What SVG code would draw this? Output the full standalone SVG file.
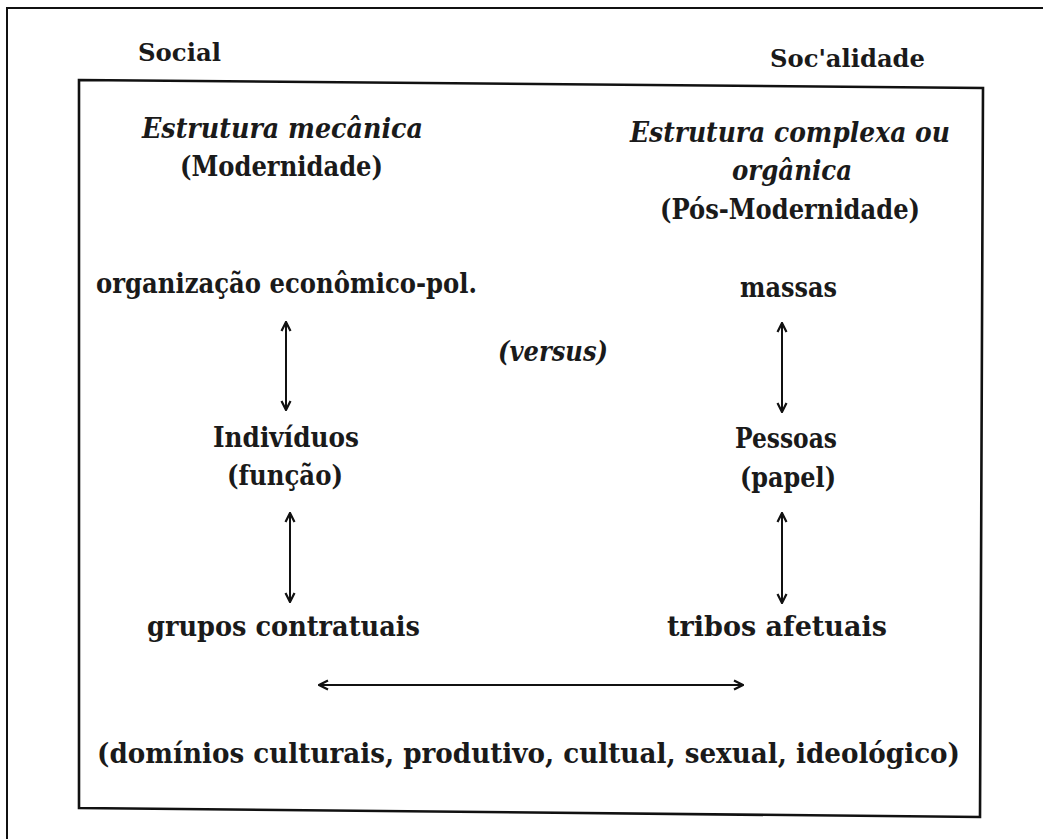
<svg xmlns="http://www.w3.org/2000/svg" width="1043" height="839" viewBox="0 0 1043 839">
<style>
.t{font-family:"DejaVu Serif","Liberation Serif",serif;font-size:27px;font-weight:bold;fill:#1a1a1a}
.h{font-size:25px}
.i{font-style:italic}
.ln{stroke:#111;fill:none}
.ar{stroke:#111;stroke-width:2;fill:none;marker-start:url(#ah);marker-end:url(#ah)}
</style>
<defs>
<marker id="ah" viewBox="0 0 12 12" refX="11" refY="6" markerWidth="12" markerHeight="12" markerUnits="userSpaceOnUse" orient="auto-start-reverse">
<path d="M2,1.5 L11,6 L2,10.5" fill="none" stroke="#111" stroke-width="2.2"/>
</marker>
</defs>
<rect width="1043" height="839" fill="#fff"/>
<g id="frame">
<path class="ln" d="M7,1100 L7,8 L1100,8" stroke-width="2"/>
<path class="ln" d="M79,80 L983,88 L980,817 L79,808 Z" stroke-width="2.6"/>
</g>
<g id="titulo-social"><text class="t h" x="138" y="61" textLength="83" lengthAdjust="spacingAndGlyphs">Social</text></g>
<g id="titulo-socialidade"><text class="t h" x="770" y="67" textLength="155" lengthAdjust="spacingAndGlyphs">Soc'alidade</text></g>
<g id="estrutura-mecanica">
<text class="t i" x="142" y="138" textLength="281" lengthAdjust="spacingAndGlyphs">Estrutura mecânica</text>
<text class="t" x="180" y="176" textLength="203" lengthAdjust="spacingAndGlyphs">(Modernidade)</text>
</g>
<g id="estrutura-complexa">
<text class="t i" x="630" y="142" textLength="320" lengthAdjust="spacingAndGlyphs">Estrutura complexa ou</text>
<text class="t i" x="732" y="180" textLength="120" lengthAdjust="spacingAndGlyphs">orgânica</text>
<text class="t" x="660" y="219" textLength="260" lengthAdjust="spacingAndGlyphs">(Pós-Modernidade)</text>
</g>
<g id="organizacao"><text class="t" x="96" y="293" textLength="381" lengthAdjust="spacingAndGlyphs">organização econômico-pol.</text></g>
<g id="massas"><text class="t" x="740" y="297" textLength="97" lengthAdjust="spacingAndGlyphs">massas</text></g>
<g id="versus"><text class="t i" x="498" y="361" textLength="110" lengthAdjust="spacingAndGlyphs">(versus)</text></g>
<g id="individuos">
<text class="t" x="213" y="447" textLength="146" lengthAdjust="spacingAndGlyphs">Indivíduos</text>
<text class="t" x="227" y="485" textLength="116" lengthAdjust="spacingAndGlyphs">(função)</text>
</g>
<g id="pessoas">
<text class="t" x="735" y="448" textLength="102" lengthAdjust="spacingAndGlyphs">Pessoas</text>
<text class="t" x="740" y="487" textLength="96" lengthAdjust="spacingAndGlyphs">(papel)</text>
</g>
<g id="grupos"><text class="t" x="147" y="636" textLength="273" lengthAdjust="spacingAndGlyphs">grupos  contratuais</text></g>
<g id="tribos"><text class="t" x="667" y="636" textLength="220" lengthAdjust="spacingAndGlyphs">tribos  afetuais</text></g>
<g id="dominios"><text class="t" x="97" y="763" textLength="863" lengthAdjust="spacingAndGlyphs">(domínios  culturais,  produtivo,  cultual,  sexual,  ideológico)</text></g>
<g id="connectors">
<line class="ar" x1="286" y1="322" x2="286" y2="410"/>
<line class="ar" x1="290" y1="513" x2="290" y2="602"/>
<line class="ar" x1="782" y1="323" x2="782" y2="412"/>
<line class="ar" x1="782" y1="513" x2="782" y2="603"/>
<line class="ar" x1="319" y1="685" x2="743" y2="685"/>
</g>
</svg>
